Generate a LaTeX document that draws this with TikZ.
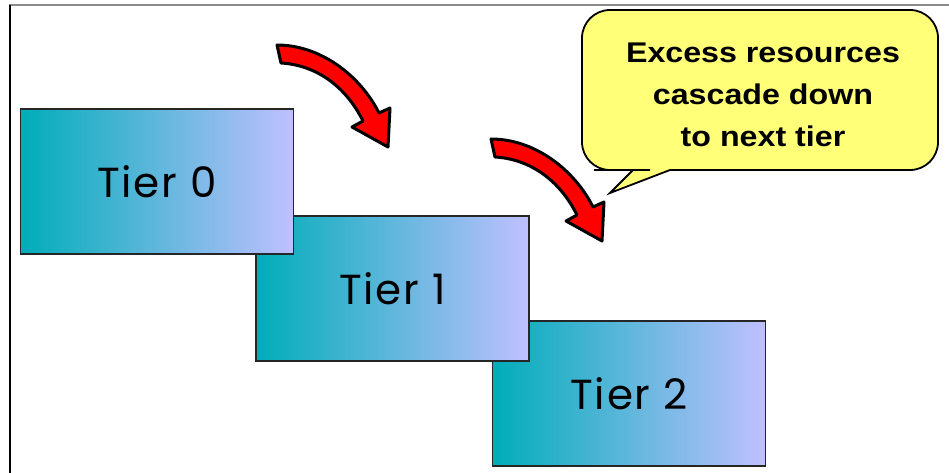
\documentclass[tikz,border=0pt]{standalone}
\usepackage{fontspec}
\newfontfamily\tierfont[LetterSpace = 4]{Poppins}
\newfontfamily\calloutfont[FakeStretch = 1.13]{Liberation Sans Bold}
\definecolor{tierteal}{RGB}{0,173,185}
\definecolor{tierlavender}{RGB}{192,192,255}
\definecolor{calloutyellow}{RGB}{255,255,120}
\definecolor{cascadered}{RGB}{255,0,0}

\begin{document}

\begin{tikzpicture}[
  x = 1pt,
  y = -1pt,
  tier/.style = {draw = black!85, line width = 1.5pt,
    left color = tierteal, right color = tierlavender,
    minimum width = 273pt, minimum height = 145pt,
    font = \tierfont\fontsize{42}{42}\selectfont},
  callout/.style = {draw = black, line width = 1.8pt, fill = calloutyellow},
  pics/cascade arrow/.style = {code = {
    \draw [fill = cascadered, line width = 3pt, line join = round]
      (0, 0) .. controls (43, 0) and (83, 30) .. (102, 68)
      -- (113, 63) -- (111, 102) -- (75, 82) -- (86, 76)
      .. controls (68, 40) and (38, 20) .. (4, 18) -- cycle;
  }},
  ]

  \useasboundingbox (0, 0) rectangle (949, 473);

  \draw [black!45, line width = 1.5pt] (9, 5) -- (949, 5);

  \draw [black, line width = 1.8pt] (10, 5) -- (10, 473);

  \node at (629, 393.5)
  [tier, name = Tier2] {Tier 2};

  \node at (392.5, 288.5)
  [tier, name = Tier1] {Tier 1};

  \node at (157, 181.5)
  [tier, name = Tier0] {Tier 0};

  \pic at (277, 45) {cascade arrow};

  \pic at (491, 139) {cascade arrow};

  \draw [callout] (670, 170) [rounded corners = 28pt]
    -- (938, 170) -- (938, 10) -- (582, 10) -- (582, 170) -- (622, 170)
    [sharp corners] -- (633, 170) -- (610, 193) -- cycle;

  \node at (763, 94.8)
  [inner sep = 0pt, align = center, name = Callout,
   font = \calloutfont\fontsize{28.5}{42}\selectfont]
  {Excess resources\\cascade down\\to next tier};

\end{tikzpicture}

\end{document}
